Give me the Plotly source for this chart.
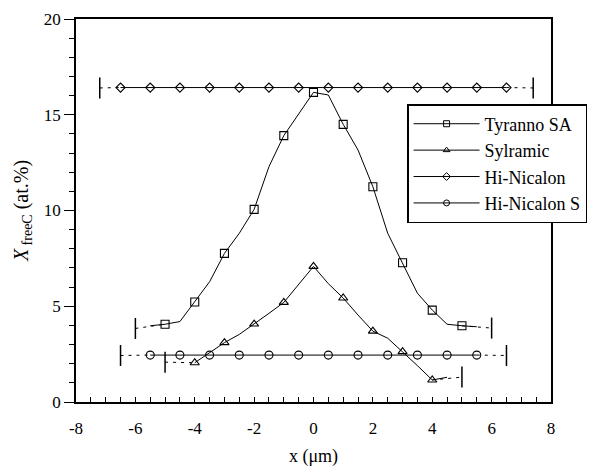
import plotly.graph_objects as go

# ---- data ----
# Tyranno SA (curve sampled every 0.5, markers at integer x)
tyr_x = [-5.5, -5, -4.5, -4, -3.5, -3, -2.5, -2, -1.5, -1, -0.5, 0, 0.5, 1, 1.5, 2, 2.5, 3, 3.5, 4, 4.5, 5, 5.5]
tyr_y = [3.98, 4.06, 4.2, 5.22, 6.28, 7.76, 8.81, 10.06, 12.29, 13.91, 15.05, 16.17, 16.03, 14.5, 13.16, 11.24, 8.81, 7.27, 5.68, 4.8, 4.06, 3.98, 3.93]
tyr_bar_x = [-6, 6]
tyr_bar_y = [3.84, 3.86]

# Sylramic
syl_x = [-4, -3.5, -3, -2.5, -2, -1.5, -1, -0.5, 0, 0.5, 1, 1.5, 2, 2.5, 3, 3.5, 4, 4.5]
syl_y = [2.05, 2.58, 3.1, 3.53, 4.07, 4.63, 5.2, 6.11, 7.08, 6.18, 5.43, 4.54, 3.7, 3.33, 2.63, 1.9, 1.15, 1.29]
syl_bar_x = [-5, 5]
syl_bar_y = [2.08, 1.3]

# Hi-Nicalon
hin_x = [-6.5, -5.5, -4.5, -3.5, -2.5, -1.5, -0.5, 0.5, 1.5, 2.5, 3.5, 4.5, 5.5, 6.5]
hin_y = [16.42, 16.42, 16.42, 16.42, 16.42, 16.42, 16.42, 16.42, 16.42, 16.42, 16.42, 16.42, 16.42, 16.42]
hin_bar_x = [-7.2, 7.4]
hin_bar_y = [16.4, 16.4]

# Hi-Nicalon S
hns_x = [-5.5, -4.5, -3.5, -2.5, -1.5, -0.5, 0.5, 1.5, 2.5, 3.5, 4.5, 5.5]
hns_y = [2.45, 2.45, 2.45, 2.45, 2.45, 2.45, 2.45, 2.45, 2.45, 2.45, 2.45, 2.45]
hns_bar_x = [-6.5, 6.5]
hns_bar_y = [2.43, 2.43]

names = ["Tyranno SA", "Sylramic", "Hi-Nicalon", "Hi-Nicalon S"]
x_ticks = [-8, -6, -4, -2, 0, 2, 4, 6, 8]
y_ticks = [0, 5, 10, 15, 20]

FONT = "Times New Roman, Liberation Serif, DejaVu Serif, serif"
BLACK = "black"

series = [
    (tyr_x, tyr_y, tyr_bar_x, tyr_bar_y, "square-open", 8, "int"),
    (syl_x, syl_y, syl_bar_x, syl_bar_y, "triangle-up-open", 8, "int"),
    (hin_x, hin_y, hin_bar_x, hin_bar_y, "diamond-open", 7, "all"),
    (hns_x, hns_y, hns_bar_x, hns_bar_y, "circle-open", 8, "all"),
]

fig = go.Figure()
for name, (xs, ys, bx, by, sym, size, rule) in zip(names, series):
    if rule == "int":
        idx = [i for i, v in enumerate(xs) if float(v).is_integer()]
    else:
        idx = list(range(len(xs)))
    mx = [xs[i] for i in idx]
    my = [ys[i] for i in idx]
    cx = [bx[0], mx[0], None, mx[-1], bx[1]]
    cy = [by[0], my[0], None, my[-1], by[1]]
    fig.add_trace(go.Scatter(x=cx, y=cy, mode="lines", showlegend=False,
                             line=dict(color=BLACK, width=1, dash="3px,5px"), hoverinfo="skip"))
    fig.add_trace(go.Scatter(x=xs, y=ys, mode="lines", showlegend=False,
                             line=dict(color=BLACK, width=1), hoverinfo="skip"))
    fig.add_trace(go.Scatter(x=mx, y=my, mode="markers", showlegend=False,
                             marker=dict(symbol=sym, size=size, color=BLACK,
                                         line=dict(color=BLACK, width=1.1))))
    fig.add_trace(go.Scatter(x=bx, y=by, mode="markers", showlegend=False,
                             marker=dict(symbol="line-ns-open", size=15, color=BLACK,
                                         line=dict(color=BLACK, width=1.5))))
    fig.add_trace(go.Scatter(x=[None], y=[None], mode="lines+markers", name=name,
                             line=dict(color=BLACK, width=1),
                             marker=dict(symbol=sym, size=6, color=BLACK,
                                         line=dict(color=BLACK, width=1))))

fig.update_layout(
    width=595, height=469,
    margin=dict(l=76, r=44, t=19, b=67, autoexpand=False),
    paper_bgcolor="white", plot_bgcolor="white",
    font=dict(family=FONT, size=17, color=BLACK),
    showlegend=True,
    legend=dict(x=0.697, y=0.778, xanchor="left", yanchor="top",
                bgcolor="white", bordercolor=BLACK, borderwidth=1.5,
                font=dict(family=FONT, size=18, color=BLACK),
                itemwidth=66, tracegroupgap=0),
)
fig.update_xaxes(
    range=[-8, 8], tickvals=x_ticks, ticktext=[str(v) for v in x_ticks],
    showline=True, linecolor=BLACK, linewidth=1.5, mirror=True,
    ticks="inside", ticklen=5, tickcolor=BLACK, tickwidth=1,
    minor=dict(dtick=0.5, ticks="inside", ticklen=5, tickcolor=BLACK, tickwidth=1),
    showgrid=False, zeroline=False,
    ticklabelstandoff=10,
    tickfont=dict(family=FONT, size=17),
    title=dict(text="x (μm)", font=dict(family=FONT, size=18), standoff=12),
)
fig.update_yaxes(
    range=[0, 20], tickvals=y_ticks, ticktext=[str(v) for v in y_ticks],
    showline=True, linecolor=BLACK, linewidth=1.5, mirror=True,
    ticks="outside", ticklen=10, tickcolor=BLACK, tickwidth=1,
    minor=dict(dtick=1, ticks="outside", ticklen=5, tickcolor=BLACK, tickwidth=1),
    showgrid=False, zeroline=False,
    tickfont=dict(family=FONT, size=17),
    title=dict(text="<i>X</i><sub> freeC</sub> (at.%)", font=dict(family=FONT, size=20), standoff=10),
)

fig.write_html("out.html")
